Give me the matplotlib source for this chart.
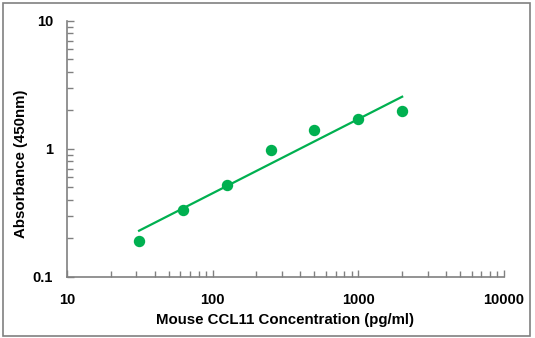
import numpy as np
import matplotlib
matplotlib.use("Agg")
import matplotlib.pyplot as plt
from matplotlib.patches import Rectangle
from matplotlib.ticker import LogLocator, FixedLocator, FixedFormatter, NullFormatter

# standard curve data
conc = [31.25, 62.5, 125, 250, 500, 1000, 2000]
absorb = [0.191, 0.330, 0.523, 0.980, 1.40, 1.70, 1.96]

x_ticks = [10, 100, 1000, 10000]
x_tick_labels = ['10', '100', '1000', '10000']
y_ticks = [0.1, 1, 10]
y_tick_labels = ['0.1', '1', '10']

green = '#00B050'
grey = '#808080'

plt.rcParams['font.family'] = ['Liberation Sans', 'DejaVu Sans']
plt.rcParams['font.weight'] = 'bold'

fig = plt.figure(figsize=(5.35, 3.38), dpi=100)
ax = fig.add_axes([0.1252, 0.1814, 0.8168, 0.7574])

# power-law trend line fitted in log-log space
k, b = np.polyfit(np.log10(conc), np.log10(absorb), 1)
fit_x = np.array([conc[0], conc[-1]])
fit_y = 10 ** (k * np.log10(fit_x) + b)
ax.plot(fit_x, fit_y, '-', color=green, lw=1.6)
ax.plot(conc, absorb, 'o', color=green, ms=7.2, mec=green)

ax.set_xscale('log')
ax.set_yscale('log')
ax.set_xlim(10, 10000)
ax.set_ylim(0.1, 10)

ax.xaxis.set_major_locator(FixedLocator(x_ticks))
ax.xaxis.set_major_formatter(FixedFormatter(x_tick_labels))
ax.yaxis.set_major_locator(FixedLocator(y_ticks))
ax.yaxis.set_major_formatter(FixedFormatter(y_tick_labels))
ax.xaxis.set_minor_locator(LogLocator(base=10, subs=np.arange(2, 10)))
ax.yaxis.set_minor_locator(LogLocator(base=10, subs=np.arange(2, 10)))
ax.xaxis.set_minor_formatter(NullFormatter())
ax.yaxis.set_minor_formatter(NullFormatter())

for s in ['top', 'right']:
    ax.spines[s].set_visible(False)
for s in ['left', 'bottom']:
    ax.spines[s].set_color(grey)
    ax.spines[s].set_linewidth(1.2)

ax.tick_params(which='both', direction='in', color=grey, width=1, labelsize=10.5)
ax.tick_params(which='major', length=5)
ax.tick_params(which='minor', length=4)
ax.tick_params(axis='x', which='major', pad=12)
ax.tick_params(axis='y', which='major', pad=10)
for lab in ax.get_xticklabels() + ax.get_yticklabels():
    lab.set_fontweight('bold')

ax.set_xlabel('Mouse CCL11 Concentration (pg/ml)', fontsize=10.8, fontweight='bold')
ax.set_ylabel('Absorbance (450nm)', fontsize=10.8, fontweight='bold')
ax.xaxis.set_label_coords(0.5, -0.142)
ax.yaxis.set_label_coords(-0.089, 0.44)

# outer chart border
fig.patches.append(Rectangle((0.006, 0.007), 0.984, 0.984, transform=fig.transFigure,
                             fill=False, edgecolor=grey, lw=1.2))

fig.savefig('out.png', dpi=100)
